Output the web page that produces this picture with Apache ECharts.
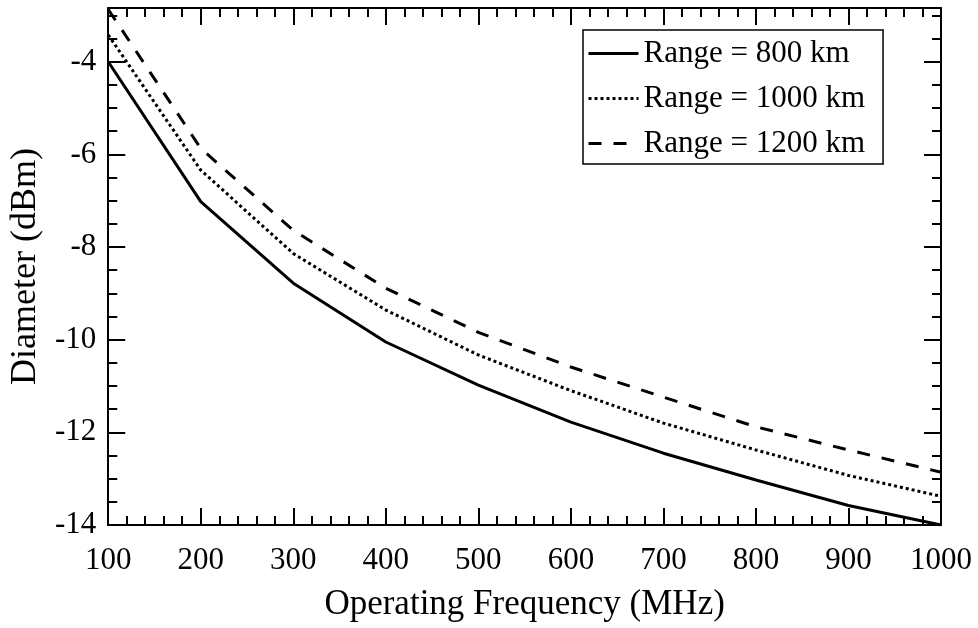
<!DOCTYPE html>
<html><head><meta charset="utf-8">
<script src="https://cdn.jsdelivr.net/npm/echarts@6/dist/echarts.min.js"></script>
<style>html,body{margin:0;padding:0;background:#fff}#c{width:978px;height:628px}</style>
</head><body><div id="c"></div>
<script>
// ---- data ----
const frequencies = [100, 200, 300, 400, 500, 600, 700, 800, 900, 1000];
const range800  = [-4.00, -7.02, -8.78, -10.05, -10.98, -11.78, -12.45, -13.03, -13.58, -14.00];
const range1000 = [-3.42, -6.34, -8.14, -9.36, -10.33, -11.10, -11.80, -12.38, -12.93, -13.38];
const range1200 = [-2.87, -5.87, -7.64, -8.89, -9.84, -10.59, -11.24, -11.88, -12.38, -12.86];
const seriesNames = ['Range = 800 km', 'Range = 1000 km', 'Range = 1200 km'];
const xTickStep = 100, xMin = 100, xMax = 1000;
const yMin = -14, yMax = -2.84, yMajor = 2, yMinor = 0.5;

const FONT = 'Liberation Serif';
const BLACK = '#000';
const chart = echarts.init(document.getElementById('c'), null, {renderer: 'canvas'});
const pairs = arr => frequencies.map((f, i) => [f, arr[i]]);
const plain = v => String(v);

const xBase = (pos, withLabel) => ({
  type: 'value', position: pos, min: xMin, max: xMax, interval: xTickStep,
  axisLine: {show: true, onZero: false, lineStyle: {color: BLACK, width: 2}},
  axisTick: {show: true, inside: true, length: 17, lineStyle: {color: BLACK, width: 2}},
  minorTick: {show: true, splitNumber: 5, length: 9, lineStyle: {color: BLACK, width: 2}},
  axisLabel: withLabel ? {fontFamily: FONT, fontSize: 31, color: BLACK, margin: 20, formatter: plain} : {show: false},
  splitLine: {show: false}, minorSplitLine: {show: false}
});
const yBase = (pos, major, withLabel) => ({
  type: 'value', position: pos, min: yMin, max: yMax, interval: major ? yMajor : yMinor,
  axisLine: {show: major, onZero: false, lineStyle: {color: BLACK, width: 2}},
  axisTick: {show: true, inside: true, length: major ? 17 : 9, lineStyle: {color: BLACK, width: 2}},
  axisLabel: withLabel ? {fontFamily: FONT, fontSize: 31, color: BLACK, margin: 12, showMaxLabel: false, formatter: plain} : {show: false},
  splitLine: {show: false}
});

const xAxis0 = xBase('bottom', true);
Object.assign(xAxis0, {
  name: 'Operating Frequency (MHz)', nameLocation: 'middle', nameGap: 62,
  nameTextStyle: {fontFamily: FONT, fontSize: 35, color: BLACK}
});
const yAxis0 = yBase('left', true, true);
Object.assign(yAxis0, {
  name: 'Diameter (dBm)', nameLocation: 'middle', nameGap: 61,
  nameTextStyle: {fontFamily: FONT, fontSize: 36, color: BLACK}
});

const lineSeries = (name, arr, type) => ({
  name, type: 'line', data: pairs(arr), xAxisIndex: 0, yAxisIndex: 0,
  symbol: 'none', showSymbol: false, clip: true, silent: true,
  lineStyle: {color: BLACK, width: 3, type, cap: 'butt'},
  itemStyle: {color: BLACK}
});

chart.setOption({
  animation: false,
  backgroundColor: '#fff',
  grid: {left: 105, right: 37, top: 8, bottom: 103},
  xAxis: [xAxis0, xBase('top', false)],
  yAxis: [yAxis0, yBase('left', false, false), yBase('right', true, false), yBase('right', false, false)],
  legend: {
    orient: 'vertical', left: 583, top: 30,
    itemWidth: 50, itemHeight: 14, itemGap: 14,
    padding: [8, 18, 5, 4],
    borderColor: BLACK, borderWidth: 1.5, borderRadius: 0, backgroundColor: '#fff',
    textStyle: {fontFamily: FONT, fontSize: 31, color: BLACK, lineHeight: 30},
    itemStyle: {color: 'rgba(0,0,0,0)', borderWidth: 0, opacity: 0},
    lineStyle: {width: 3},
    data: seriesNames
  },
  series: [
    lineSeries(seriesNames[0], range800, 'solid'),
    lineSeries(seriesNames[1], range1000, [3, 3]),
    lineSeries(seriesNames[2], range1200, [13, 12])
  ]
});
</script></body></html>
